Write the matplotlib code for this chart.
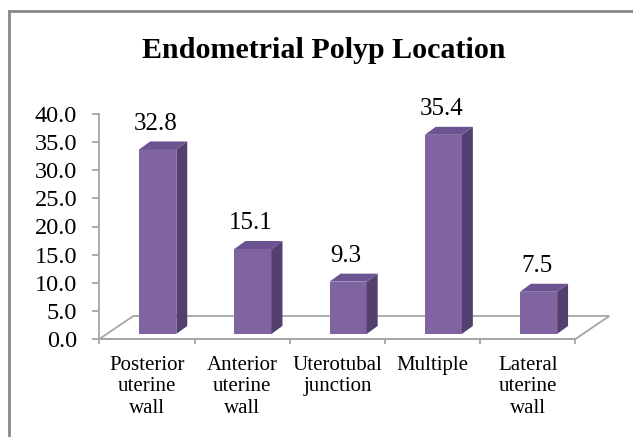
import numpy as np
import matplotlib
matplotlib.use("Agg")
import matplotlib.pyplot as plt
from matplotlib.patches import Polygon
from matplotlib.lines import Line2D

# ---- data ------------------------------------------------------------------
categories = ["Posterior\nuterine\nwall", "Anterior\nuterine\nwall",
              "Uterotubal\njunction", "Multiple", "Lateral\nuterine\nwall"]
values = [32.8, 15.1, 9.3, 35.4, 7.5]
yticks = [0, 5, 10, 15, 20, 25, 30, 35, 40]
title = "Endometrial Polyp Location"

# ---- style -----------------------------------------------------------------
FRONT = "#8064a2"
SIDE = "#54406e"
TOP = "#6a5390"
GRID = "#a6a6a6"
W, H, DPI = 633, 437, 100

# pseudo-3D geometry (in data units)
FLOOR_DX, FLOOR_DY = 0.357, 4.1     # depth of the floor
OFF, BW, B0 = 0.113, 0.39, 0.9      # bar front face offset / width / base
DDX, DDY = 0.115, 1.42              # bar depth

plt.rcParams["font.family"] = ["Liberation Serif", "DejaVu Serif"]

fig = plt.figure(figsize=(W / DPI, H / DPI), dpi=DPI)
ax = fig.add_axes([0, 0, 1, 1])
ax.patch.set_visible(False)

# map data -> pixels: category i centre at 147 + 95.2*i px, value v at 339 - 5.625*v px
ax.set_xlim(-147 / 95.2, (W - 147) / 95.2)
ax.set_ylim(-98 / 5.625, (H - 98) / 5.625)

x = np.arange(len(values))

# floor
fx = [-0.5, 4.5, 4.5 + FLOOR_DX, -0.5 + FLOOR_DX, -0.5]
fy = [0, 0, FLOOR_DY, FLOOR_DY, 0]
ax.plot(fx, fy, color=GRID, lw=1.3, zorder=1, solid_joinstyle="miter")

# bars: front faces from the library, then side and top faces
ax.bar(x + OFF, values, width=BW, bottom=B0, color=FRONT, zorder=3)
for xi, v in zip(x, values):
    xl, xr = xi + OFF - BW / 2, xi + OFF + BW / 2
    top = B0 + v
    ax.add_patch(Polygon([(xr, B0), (xr + DDX, B0 + DDY), (xr + DDX, top + DDY), (xr, top)],
                         closed=True, facecolor=SIDE, edgecolor="none", zorder=3))
    ax.add_patch(Polygon([(xl, top), (xr, top), (xr + DDX, top + DDY), (xl + DDX, top + DDY)],
                         closed=True, facecolor=TOP, edgecolor="none", zorder=3))
    ax.text(xi + OFF - 0.02, top + DDY + 2.1, f"{v:.1f}", ha="center", va="baseline",
            fontsize=18, color="black", zorder=4)

# axes lines
for s in ("top", "right"):
    ax.spines[s].set_visible(False)
ax.spines["left"].set_position(("data", -0.5))
ax.spines["left"].set_bounds(0, 40)
ax.spines["bottom"].set_position(("data", 0))
ax.spines["bottom"].set_bounds(-0.5, 4.5)
for s in ("left", "bottom"):
    ax.spines[s].set_color(GRID)
    ax.spines[s].set_linewidth(1.3)

ax.set_yticks(yticks)
ax.set_yticklabels([f"{t:.1f}" for t in yticks])
ax.tick_params(axis="y", direction="out", length=5, width=1.3, color=GRID,
               labelsize=17.5, pad=11)

ax.set_xticks(np.arange(-0.5, 5, 1.0))
ax.set_xticklabels([])
ax.tick_params(axis="x", which="major", direction="out", length=3.6, width=1.3, color=GRID)
ax.set_xticks(x, minor=True)
ax.set_xticklabels(categories, minor=True, fontsize=15, linespacing=1.2)
ax.tick_params(axis="x", which="minor", length=0, pad=12)

# title
fig.text(323.5 / W, 1 - 58 / H, title, ha="center", va="baseline",
         fontsize=21.6, fontweight="bold")

# chart border (cropped on the right and bottom)
fig.add_artist(Line2D([9 / W, 1], [1 - 11 / H, 1 - 11 / H], transform=fig.transFigure,
                      color="#888888", lw=2))
fig.add_artist(Line2D([9 / W, 9 / W], [0, 1 - 11 / H], transform=fig.transFigure,
                      color="#888888", lw=2))

fig.savefig("out.png", dpi=DPI)
